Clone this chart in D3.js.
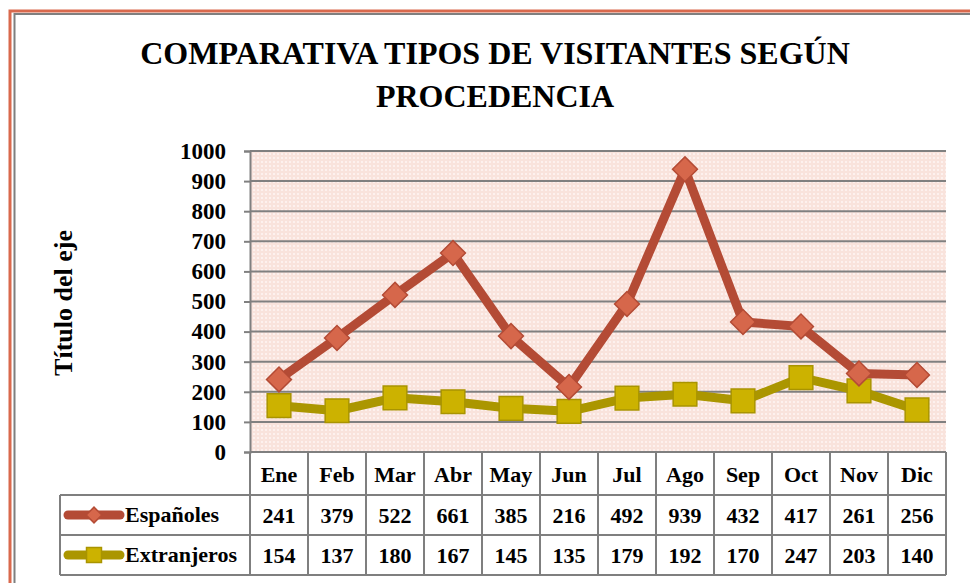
<!DOCTYPE html>
<html>
<head>
<meta charset="utf-8">
<script src="https://cdn.jsdelivr.net/npm/d3@7"></script>
<style>
  body { margin: 0; background: #fff; }
</style>
</head>
<body>
<script>
// data
var months = ["Ene", "Feb", "Mar", "Abr", "May", "Jun", "Jul", "Ago", "Sep", "Oct", "Nov", "Dic"];
var espanoles = [241, 379, 522, 661, 385, 216, 492, 939, 432, 417, 261, 256];
var extranjeros = [154, 137, 180, 167, 145, 135, 179, 192, 170, 247, 203, 140];
var seriesNames = ["Españoles", "Extranjeros"];
var yTicks = [0, 100, 200, 300, 400, 500, 600, 700, 800, 900, 1000];
var titleLines = ["COMPARATIVA TIPOS DE VISITANTES SEGÚN", "PROCEDENCIA"];

var width = 970, height = 583;
var plot = { left: 250, right: 946, top: 151, bottom: 452 };
var rowH = 40;
var font = "'Liberation Serif', 'Times New Roman', serif";

var svg = d3.select("body")
  .append("svg")
  .attr("width", width)
  .attr("height", height);

// helper for bold serif text
function label(g, size) {
  return g.append("text")
    .attr("font-family", font)
    .attr("font-weight", "bold")
    .attr("font-size", size)
    .attr("fill", "#000");
}

// background dotted pattern of the plot area
var defs = svg.append("defs");
var pat = defs.append("pattern")
  .attr("id", "dots")
  .attr("width", 4).attr("height", 4)
  .attr("patternUnits", "userSpaceOnUse");
pat.append("rect").attr("width", 4).attr("height", 4).attr("fill", "#f9e3dc");
pat.append("rect").attr("x", 1).attr("y", 1).attr("width", 2).attr("height", 2).attr("fill", "#fdf1ee");

// chart frame (cut on the right and bottom)
svg.append("rect")
  .attr("x", 10).attr("y", 11)
  .attr("width", 1000).attr("height", 1000)
  .attr("fill", "none").attr("stroke", "#d9694d").attr("stroke-width", 3);
svg.append("rect")
  .attr("x", 14.5).attr("y", 14)
  .attr("width", 1000).attr("height", 1000)
  .attr("fill", "none").attr("stroke", "#7f7f7f").attr("stroke-width", 2);

// title
titleLines.forEach(function (t, i) {
  label(svg, 32)
    .attr("x", 495).attr("y", 64 + i * 43)
    .attr("text-anchor", "middle")
    .text(t);
});

var x = d3.scaleBand()
  .domain(months)
  .range([plot.left, plot.right]);

var y = d3.scaleLinear()
  .domain([0, 1000])
  .range([plot.bottom, plot.top]);

svg.append("rect")
  .attr("x", plot.left).attr("y", plot.top)
  .attr("width", plot.right - plot.left)
  .attr("height", plot.bottom - plot.top)
  .attr("fill", "url(#dots)");

// gridlines
svg.append("g")
  .selectAll("line")
  .data(yTicks.filter(function (d) { return d > 0; }))
  .enter().append("line")
  .attr("x1", plot.left).attr("x2", plot.right)
  .attr("y1", function (d) { return y(d); })
  .attr("y2", function (d) { return y(d); })
  .attr("stroke", "#808080").attr("stroke-width", 2);

// y axis
var yAxis = svg.append("g")
  .attr("transform", "translate(" + plot.left + ",0)")
  .call(d3.axisLeft(y).tickValues(yTicks).tickFormat(d3.format("d")).tickSize(6).tickPadding(18));
yAxis.attr("font-family", font);
yAxis.select(".domain").attr("stroke", "#808080").attr("stroke-width", 2);
yAxis.selectAll(".tick line").attr("stroke", "#808080").attr("stroke-width", 2);
yAxis.selectAll(".tick text")
  .attr("font-family", font)
  .attr("font-weight", "bold")
  .attr("font-size", 23)
  .attr("fill", "#000");

label(svg, 26)
  .attr("transform", "translate(72,303) rotate(-90)")
  .attr("text-anchor", "middle")
  .text("Título del eje");

// data table below the plot
var tableTop = plot.bottom;
var table = svg.append("g").attr("fill", "none").attr("stroke", "#7f7f7f").attr("stroke-width", 2);
table.append("line")
  .attr("x1", plot.left).attr("x2", plot.right)
  .attr("y1", tableTop).attr("y2", tableTop);
[1, 2, 3].forEach(function (r) {
  table.append("line")
    .attr("x1", 60).attr("x2", plot.right)
    .attr("y1", tableTop + 3 + r * rowH).attr("y2", tableTop + 3 + r * rowH);
});
table.append("line")
  .attr("x1", 60).attr("x2", 60)
  .attr("y1", tableTop + 3 + rowH).attr("y2", tableTop + 3 + 3 * rowH);
table.selectAll(".col")
  .data(months.concat(["end"]))
  .enter().append("line")
  .attr("x1", function (d, i) { return plot.left + i * x.bandwidth(); })
  .attr("x2", function (d, i) { return plot.left + i * x.bandwidth(); })
  .attr("y1", tableTop).attr("y2", tableTop + 3 + 3 * rowH);

months.forEach(function (m) {
  label(svg, 22)
    .attr("x", x(m) + x.bandwidth() / 2)
    .attr("y", tableTop + 30)
    .attr("text-anchor", "middle")
    .text(m);
});

var series = [
  { name: seriesNames[0], values: espanoles, line: "#b44b35", fill: "#d6674b", stroke: "#b44b35", shape: d3.symbolSquare, size: 310, rot: 45 },
  { name: seriesNames[1], values: extranjeros, line: "#ab9600", fill: "#ccb200", stroke: "#a99400", shape: d3.symbolSquare, size: 560, rot: 0 }
];

series.forEach(function (s, si) {
  var rowY = tableTop + 3 + (si + 1) * rowH;
  s.values.forEach(function (v, i) {
    label(svg, 22)
      .attr("x", x(months[i]) + x.bandwidth() / 2)
      .attr("y", rowY + 28)
      .attr("text-anchor", "middle")
      .text(v);
  });

  // legend key
  svg.append("line")
    .attr("x1", 68).attr("x2", 120)
    .attr("y1", rowY + 20).attr("y2", rowY + 20)
    .attr("stroke", s.line).attr("stroke-width", 9).attr("stroke-linecap", "round");
  svg.append("path")
    .attr("d", d3.symbol().type(s.shape).size(s.size * 0.4)())
    .attr("transform", "translate(94," + (rowY + 20) + ") rotate(" + s.rot + ")")
    .attr("fill", s.fill).attr("stroke", s.stroke).attr("stroke-width", 1.5);
  label(svg, 22)
    .attr("x", 125).attr("y", rowY + 27)
    .text(s.name);
});

// lines and markers
var line = d3.line()
  .x(function (d, i) { return x(months[i]) + x.bandwidth() / 2; })
  .y(function (d) { return y(d); });

series.slice().reverse().forEach(function (s) {
  svg.append("path")
    .datum(s.values)
    .attr("d", line)
    .attr("fill", "none")
    .attr("stroke", s.line)
    .attr("stroke-width", 9)
    .attr("stroke-linejoin", "round");
  svg.append("g")
    .selectAll("path")
    .data(s.values)
    .enter().append("path")
    .attr("d", d3.symbol().type(s.shape).size(s.size)())
    .attr("transform", function (d, i) {
      return "translate(" + (x(months[i]) + x.bandwidth() / 2) + "," + y(d) + ") rotate(" + s.rot + ")";
    })
    .attr("fill", s.fill)
    .attr("stroke", s.stroke)
    .attr("stroke-width", 1.5);
});
</script>
</body>
</html>
